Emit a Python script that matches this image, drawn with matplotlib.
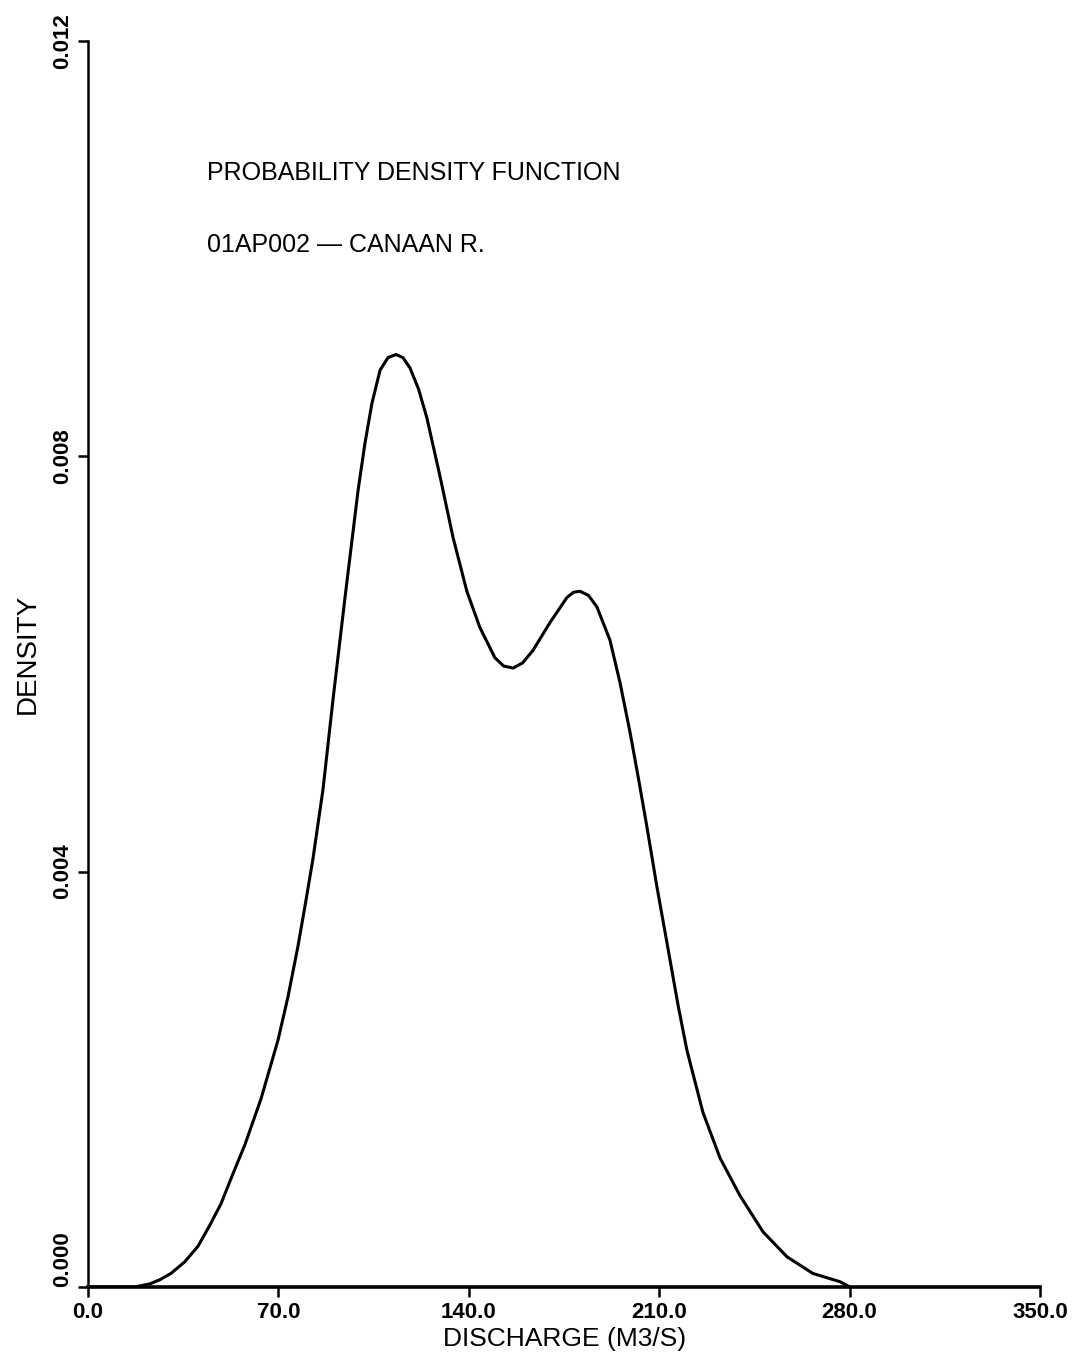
import matplotlib
matplotlib.use("Agg")
import matplotlib.pyplot as plt

# discharge (m3/s) and estimated density along the PDF curve
discharge = [0.0, 17.3, 22.8, 26.5, 30.5, 35.5, 40.4, 44.5, 48.9, 53.0, 57.7, 63.6,
             69.9, 73.5, 77.2, 80.0, 82.7, 86.4, 90.1, 94.5, 99.3, 101.8, 104.4,
             107.4, 110.3, 113.2, 115.8, 118.4, 121.5, 124.6, 129.4, 134.2, 139.3,
             144.1, 149.6, 152.8, 156.3, 159.8, 163.6, 169.9, 176.1, 178.5, 180.9,
             184.0, 187.1, 191.9, 195.6, 199.3, 202.5, 205.5, 209.2, 212.9, 216.9,
             220.2, 226.1, 232.4, 239.7, 248.2, 257.0, 266.5, 276.5, 280.1]
density = [0.0, 0.0, 0.00003, 0.00007, 0.00013, 0.00024, 0.00039, 0.00058, 0.00080,
           0.00107, 0.00137, 0.00181, 0.00238, 0.00279, 0.00328, 0.00370, 0.00412,
           0.00479, 0.00566, 0.00664, 0.00767, 0.00812, 0.00851, 0.00883, 0.00895,
           0.00898, 0.00895, 0.00885, 0.00865, 0.00837, 0.00781, 0.00722, 0.00670,
           0.00635, 0.00606, 0.00598, 0.00596, 0.00601, 0.00613, 0.00640, 0.00664,
           0.00669, 0.00670, 0.00666, 0.00655, 0.00623, 0.00582, 0.00534, 0.00488,
           0.00443, 0.00385, 0.00331, 0.00272, 0.00228, 0.00168, 0.00124, 0.00088,
           0.00053, 0.00029, 0.00013, 0.00005, 0.0]

x_ticks = [0.0, 70.0, 140.0, 210.0, 280.0, 350.0]
y_ticks = [0.000, 0.004, 0.008, 0.012]

title_lines = ["PROBABILITY DENSITY FUNCTION", "01AP002 \u2014 CANAAN R."]

plt.rcParams['font.family'] = ['Liberation Sans', 'DejaVu Sans']

fig = plt.figure(figsize=(10.9, 13.64), dpi=100)
ax = fig.add_axes([0.0807, 0.0565, 0.8734, 0.9135])

ax.plot(discharge, density, color="black", linewidth=2.2,
        solid_capstyle="round", solid_joinstyle="round")

ax.set_xlim(0, 350)
ax.set_ylim(0, 0.012)

for s in ["top", "right"]:
    ax.spines[s].set_visible(False)
ax.spines["bottom"].set_linewidth(2.6)
ax.spines["left"].set_linewidth(1.8)

ax.set_xticks(x_ticks)
ax.set_xticklabels(["%.1f" % v for v in x_ticks])
ax.set_yticks(y_ticks)
ax.set_yticklabels(["%.3f" % v for v in y_ticks], rotation=90, va="center")
ax.tick_params(axis="both", direction="out", length=7, width=1.8, pad=4,
               labelsize=16)
for lab in ax.get_xticklabels() + ax.get_yticklabels():
    lab.set_fontweight("bold")
# keep the zero label clear of the x axis
ax.get_yticklabels()[0].set_va("bottom")

ax.set_xlabel("DISCHARGE (M3/S)", fontsize=19)
ax.xaxis.set_label_coords(0.501, -0.032)
ax.set_ylabel("DENSITY", fontsize=20)
ax.yaxis.set_label_coords(-0.05, 0.508)

ax.text(43.8, 0.01066, title_lines[0], fontsize=18, va="baseline", ha="left")
ax.text(43.8, 0.00997, title_lines[1], fontsize=18, va="baseline", ha="left")

fig.savefig("out.png", dpi=100, facecolor="white")
